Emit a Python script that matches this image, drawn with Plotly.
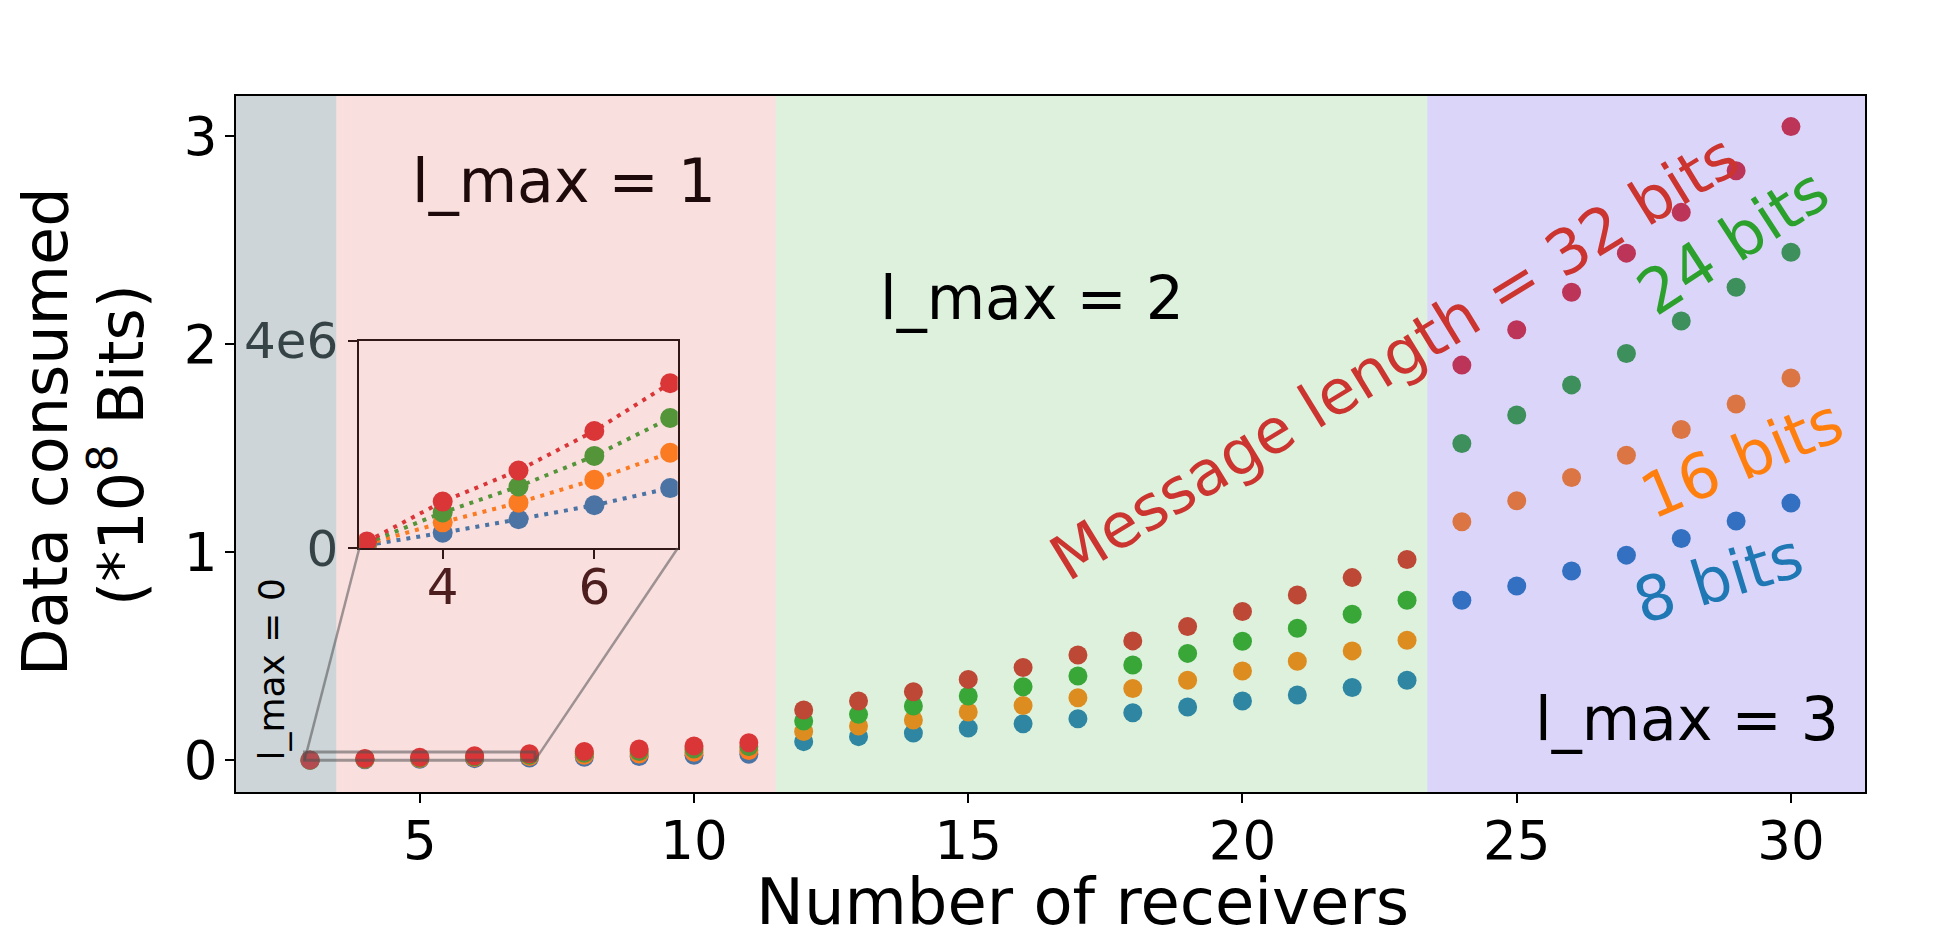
import plotly.graph_objects as go

# data consumed, in units of 1e8 bits
receivers = list(range(3, 31))
bits_8 = [0.0006, 0.0030, 0.0056, 0.0083, 0.0116, 0.015, 0.019, 0.024, 0.029,
          0.090, 0.114, 0.131, 0.155, 0.176, 0.200, 0.229, 0.256, 0.285, 0.314, 0.350, 0.385,
          0.769, 0.838, 0.910, 0.986, 1.066, 1.150, 1.236]
bits_16 = [0.0008, 0.0050, 0.0088, 0.0132, 0.0184, 0.0244, 0.031, 0.039, 0.047,
           0.139, 0.165, 0.194, 0.232, 0.264, 0.301, 0.345, 0.385, 0.429, 0.476, 0.526, 0.577,
           1.146, 1.247, 1.359, 1.466, 1.590, 1.712, 1.837]
bits_24 = [0.0010, 0.0069, 0.0119, 0.0178, 0.0251, 0.0336, 0.043, 0.054, 0.066,
           0.189, 0.221, 0.261, 0.309, 0.354, 0.405, 0.458, 0.514, 0.572, 0.635, 0.702, 0.769,
           1.522, 1.659, 1.804, 1.955, 2.111, 2.273, 2.441]
bits_32 = [0.0013, 0.0090, 0.0150, 0.0226, 0.0318, 0.0426, 0.055, 0.069, 0.085,
           0.242, 0.285, 0.330, 0.389, 0.446, 0.506, 0.574, 0.643, 0.715, 0.795, 0.878, 0.965,
           1.899, 2.069, 2.249, 2.437, 2.633, 2.833, 3.045]

series = [bits_8, bits_16, bits_24, bits_32]
series_names = ["8 bits", "16 bits", "24 bits", "32 bits"]
colors = ["#1f77b4", "#ff7f0e", "#2ca02c", "#d62728"]

# l_max regions along the x axis
region_edges = [1.65, 3.48, 11.49, 23.37, 31.35]
region_fills = ["rgba(120,140,150,0.37)", "rgba(230,110,110,0.22)",
                "rgba(100,190,100,0.22)", "rgba(110,90,230,0.25)"]

xlim = [1.65, 31.35]
ylim = [-0.152, 3.192]
inset_xlim = [2.9, 7.1]
inset_ylim = [0, 4e6]
inset_n = 5  # receivers 3..7 shown in the zoom

# the page body adds 8px on each side, so the figure is 16px smaller
OFF = 8
W, H = 1942 - 2 * OFF, 952 - 2 * OFF
L, T = 236 - OFF, 96 - OFF
pw, ph = 1629, 696
R, B = W - L - pw, H - T - ph
FONT = "DejaVu Sans"


def px_x(x):
    # window pixel -> paper fraction
    return (x - OFF - L) / pw


def px_y(y):
    return (T + ph - (y - OFF)) / ph


# inset position in window pixels
inset_xdom = [px_x(359.3), px_x(677.7)]
inset_ydom = [px_y(548.3), px_y(340.7)]

fig = go.Figure()

for vals, name, c in zip(series, series_names, colors):
    fig.add_trace(go.Scatter(
        x=receivers, y=vals, mode="markers", name=name,
        marker=dict(color=c, size=19), showlegend=False,
        xaxis="x", yaxis="y"))

for vals, name, c in zip(series, series_names, colors):
    fig.add_trace(go.Scatter(
        x=receivers[:inset_n], y=[v * 1e8 for v in vals[:inset_n]],
        mode="lines+markers", name=name,
        line=dict(color=c, width=4, dash="4px,6px"),
        marker=dict(color=c, size=20), showlegend=False,
        xaxis="x2", yaxis="y2"))

shapes = []
for i, fill in enumerate(region_fills):
    shapes.append(dict(type="rect", xref="x", yref="paper",
                       x0=region_edges[i], x1=region_edges[i + 1], y0=0, y1=1,
                       fillcolor=fill, line=dict(width=0), layer="above"))

# zoom box and connector lines
zoom_col = "rgba(80,80,80,0.55)"
shapes.append(dict(type="rect", xref="x", yref="y",
                   x0=inset_xlim[0], x1=inset_xlim[1], y0=0, y1=inset_ylim[1] / 1e8,
                   line=dict(color=zoom_col, width=3)))
ix0 = xlim[0] + inset_xdom[0] * (xlim[1] - xlim[0])
ix1 = xlim[0] + inset_xdom[1] * (xlim[1] - xlim[0])
iy0 = ylim[0] + inset_ydom[0] * (ylim[1] - ylim[0])
shapes.append(dict(type="line", xref="x", yref="y", x0=inset_xlim[0], y0=0,
                   x1=ix0, y1=iy0, line=dict(color=zoom_col, width=2.5)))
shapes.append(dict(type="line", xref="x", yref="y", x0=inset_xlim[1], y0=0,
                   x1=ix1, y1=iy0, line=dict(color=zoom_col, width=2.5)))


def label(text, x, y, size, color="black", angle=0, xref="x", yref="y"):
    return dict(text=text, x=x, y=y, xref=xref, yref=yref, showarrow=False,
                textangle=angle, xanchor="center", yanchor="middle",
                font=dict(family=FONT, size=size, color=color))


annotations = [
    label("l_max = 0", 2.28, 0.434, 36, angle=-90),
    label("l_max = 1", 7.63, 2.784, 60, color="#1e0a0a"),
    label("l_max = 2", 16.16, 2.222, 60),
    label("l_max = 3", 28.10, 0.199, 60),
    label("Message length = 32 bits", 22.76, 1.938, 62, color="#cc3430", angle=-31.5),
    label("24 bits", 28.94, 2.492, 62, color=colors[2], angle=-33),
    label("16 bits", 29.11, 1.448, 62, color=colors[1], angle=-23),
    label("8 bits", 28.67, 0.876, 62, color=colors[0], angle=-17),
    label("Data consumed", px_x(45), px_y(432), 62,
          angle=-90, xref="paper", yref="paper"),
    label("(*10<sup>8</sup> Bits)", px_x(118), px_y(445), 62,
          angle=-90, xref="paper", yref="paper"),
    label("Number of receivers", px_x(1082), px_y(902), 64,
          xref="paper", yref="paper"),
]

axis_style = dict(showline=True, linecolor="black", linewidth=2, mirror=True,
                  ticks="outside", ticklen=9, tickwidth=2, tickcolor="black",
                  showgrid=False, zeroline=False)

fig.update_layout(
    width=W, height=H,
    margin=dict(l=L, r=R, t=T, b=B),
    paper_bgcolor="white", plot_bgcolor="rgba(0,0,0,0)",
    font=dict(family=FONT, color="black"),
    xaxis=dict(range=xlim, domain=[0, 1], tickvals=[5, 10, 15, 20, 25, 30],
               tickfont=dict(size=53), ticklabelstandoff=-8, **axis_style),
    yaxis=dict(range=ylim, domain=[0, 1], tickvals=[0, 1, 2, 3],
               tickfont=dict(size=53), ticklabelstandoff=-3, **axis_style),
    xaxis2=dict(range=inset_xlim, domain=inset_xdom, anchor="y2",
                tickvals=[4, 6], tickfont=dict(size=50, color="#200808"),
                ticklabelstandoff=-15, **axis_style),
    yaxis2=dict(range=inset_ylim, domain=inset_ydom, anchor="x2",
                tickvals=[0, 4e6], ticktext=["0", "4e6"],
                tickfont=dict(size=50, color="#101818"), **axis_style),
    shapes=shapes,
    annotations=annotations,
)

fig.write_html("out.html")
